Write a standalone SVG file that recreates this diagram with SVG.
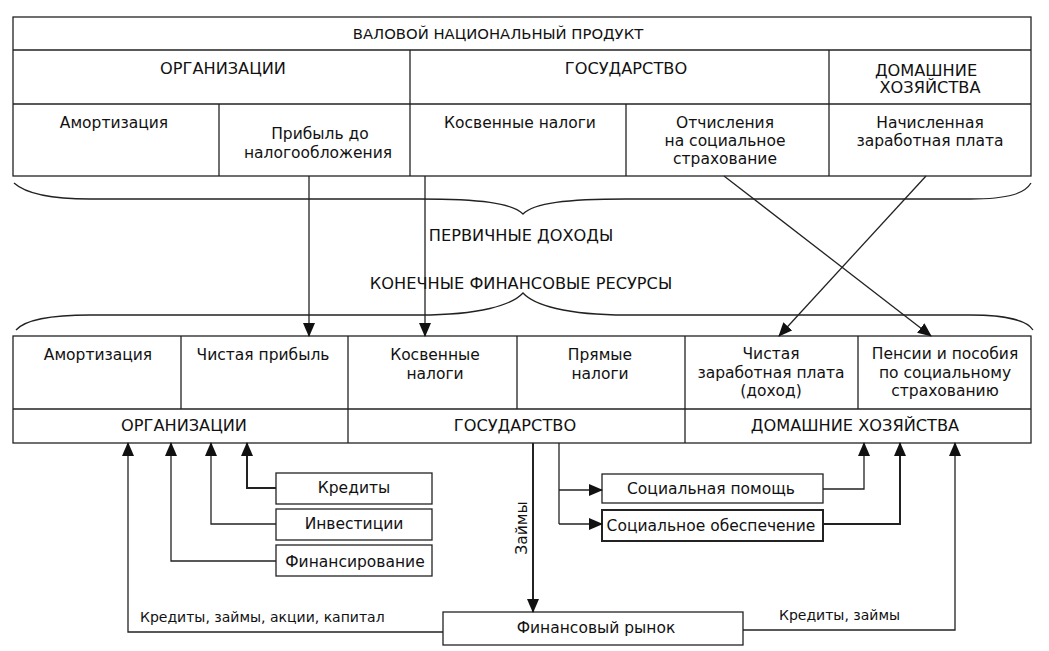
<svg xmlns="http://www.w3.org/2000/svg" width="1049" height="651" viewBox="0 0 1049 651">
<defs>
<style>
.t{font-family:"DejaVu Sans",Verdana,sans-serif;font-size:15.5px;fill:#111;text-anchor:middle}
.c{font-size:16.2px}
.h{font-size:14.8px}
.s{font-size:14px}
.l{text-anchor:start}
.b{fill:#fff;stroke:#222;stroke-width:1.3}
.ln{fill:none;stroke:#222;stroke-width:1.3}
.th{stroke-width:2}
</style>
<marker id="ah" markerUnits="userSpaceOnUse" markerWidth="14" markerHeight="12" refX="13" refY="6" orient="auto">
<path d="M0,0 L14,6 L0,12 Z" fill="#111"/>
</marker>
</defs>
<rect width="1049" height="651" fill="#fff"/>

<g id="gnp">
<rect class="b" x="13" y="17" width="1018" height="159"/>
<line class="ln" x1="13" y1="50" x2="1031" y2="50"/>
<line class="ln" x1="13" y1="104" x2="1031" y2="104"/>
<line class="ln" x1="410" y1="50" x2="410" y2="176"/>
<line class="ln" x1="829" y1="50" x2="829" y2="176"/>
<line class="ln" x1="219" y1="104" x2="219" y2="176"/>
<line class="ln" x1="626" y1="104" x2="626" y2="176"/>
<text class="t h" x="498" y="39">ВАЛОВОЙ НАЦИОНАЛЬНЫЙ ПРОДУКТ</text>
<text class="t c" x="223" y="74">ОРГАНИЗАЦИИ</text>
<text class="t c" x="626" y="74">ГОСУДАРСТВО</text>
<text class="t c" x="926" y="76">ДОМАШНИЕ</text>
<text class="t c" x="930" y="93">ХОЗЯЙСТВА</text>
<text class="t" x="114" y="128">Амортизация</text>
<text class="t" x="320" y="139">Прибыль до</text>
<text class="t" x="318" y="158">налогообложения</text>
<text class="t" x="520" y="128">Косвенные налоги</text>
<text class="t" x="725" y="128">Отчисления</text>
<text class="t" x="725" y="146">на социальное</text>
<text class="t" x="725" y="164">страхование</text>
<text class="t" x="930" y="128">Начисленная</text>
<text class="t" x="930" y="146">заработная плата</text>
</g>

<g id="braces">
<path class="ln" d="M14,183 C25,193 50,199 90,199 L420,199 C480,199 512,203 523,214 C534,203 566,199 626,199 L970,199 C1010,199 1025,193 1031,183"/>
<path class="ln" d="M16,330 C25,320 50,315 90,315 L420,315 C480,315 512,305 523,293 C534,305 566,315 626,315 L970,315 C1010,315 1028,322 1033,330"/>
<text class="t c" x="521" y="241">ПЕРВИЧНЫЕ ДОХОДЫ</text>
<text class="t c" x="521" y="289">КОНЕЧНЫЕ ФИНАНСОВЫЕ РЕСУРСЫ</text>
</g>

<g id="final">
<rect class="b" x="13" y="336" width="1018" height="107"/>
<line class="ln" x1="13" y1="409" x2="1031" y2="409"/>
<line class="ln" x1="181" y1="336" x2="181" y2="409"/>
<line class="ln" x1="348" y1="336" x2="348" y2="443"/>
<line class="ln" x1="517" y1="336" x2="517" y2="409"/>
<line class="ln" x1="685" y1="336" x2="685" y2="443"/>
<line class="ln" x1="858" y1="336" x2="858" y2="409"/>
<text class="t" x="98" y="360">Амортизация</text>
<text class="t" x="263" y="360">Чистая прибыль</text>
<text class="t" x="435" y="360">Косвенные</text>
<text class="t" x="435" y="379">налоги</text>
<text class="t" x="600" y="360">Прямые</text>
<text class="t" x="600" y="379">налоги</text>
<text class="t" x="771" y="359">Чистая</text>
<text class="t" x="771" y="378">заработная плата</text>
<text class="t" x="771" y="396">(доход)</text>
<text class="t" x="945" y="359">Пенсии и пособия</text>
<text class="t" x="945" y="378">по социальному</text>
<text class="t" x="945" y="396">страхованию</text>
<text class="t c" x="184" y="431">ОРГАНИЗАЦИИ</text>
<text class="t c" x="515" y="431">ГОСУДАРСТВО</text>
<text class="t c" x="855" y="431">ДОМАШНИЕ ХОЗЯЙСТВА</text>
</g>

<g id="credits"><rect class="b" x="276" y="473" width="156" height="31"/><text class="t" x="354" y="493">Кредиты</text></g>
<g id="invest"><rect class="b" x="276" y="509" width="156" height="31"/><text class="t" x="354" y="529">Инвестиции</text></g>
<g id="finance"><rect class="b" x="276" y="545" width="156" height="31"/><text class="t" x="355" y="567">Финансирование</text></g>
<g id="socpom"><rect class="b" x="602" y="474" width="221" height="29"/><text class="t" x="711" y="494">Социальная помощь</text></g>
<g id="socobes"><rect class="b th" x="602" y="510" width="221" height="31"/><text class="t" x="711" y="531">Социальное обеспечение</text></g>
<g id="market"><rect class="b" x="443" y="612" width="300" height="33"/><text class="t" x="596" y="633">Финансовый рынок</text></g>

<g id="connectors">
<line class="ln" x1="309" y1="176" x2="309" y2="336" marker-end="url(#ah)"/>
<line class="ln" x1="425" y1="176" x2="425" y2="336" marker-end="url(#ah)"/>
<line class="ln" x1="724" y1="176" x2="931" y2="336" marker-end="url(#ah)"/>
<line class="ln" x1="926" y1="176" x2="779" y2="336" marker-end="url(#ah)"/>
<polyline class="ln" points="443,632 128,632 128,443" marker-end="url(#ah)"/>
<polyline class="ln" points="276,561 171,561 171,443" marker-end="url(#ah)"/>
<polyline class="ln" points="276,524 211,524 211,443" marker-end="url(#ah)"/>
<polyline class="ln th" points="276,488 247,488 247,443" marker-end="url(#ah)"/>
<line class="ln th" x1="533" y1="443" x2="533" y2="612" marker-end="url(#ah)"/>
<line class="ln" x1="559" y1="443" x2="559" y2="524"/>
<line class="ln" x1="559" y1="490" x2="602" y2="490" marker-end="url(#ah)"/>
<line class="ln" x1="559" y1="524" x2="602" y2="524" marker-end="url(#ah)"/>
<polyline class="ln" points="823,489 864,489 864,443" marker-end="url(#ah)"/>
<polyline class="ln th" points="823,524 900,524 900,443" marker-end="url(#ah)"/>
<polyline class="ln" points="743,630 955,630 955,443" marker-end="url(#ah)"/>
<text class="t l s" x="140" y="622">Кредиты, займы, акции, капитал</text>
<text class="t l s" x="779" y="620">Кредиты, займы</text>
<text class="t" transform="translate(527,528) rotate(-90)">Займы</text>
</g>
</svg>
